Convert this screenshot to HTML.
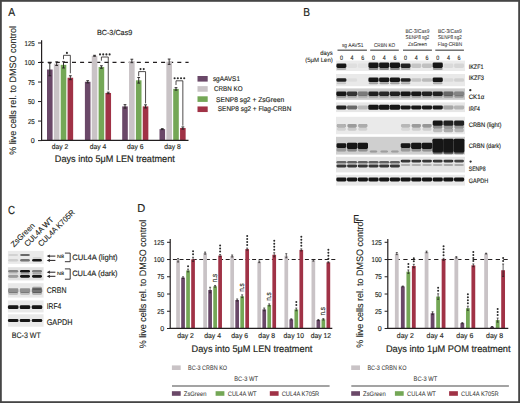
<!DOCTYPE html>
<html><head><meta charset="utf-8"><title>Figure</title>
<style>
html,body{margin:0;padding:0;background:#fff;}
body{width:520px;height:403px;overflow:hidden;}
svg{display:block;font-family:"Liberation Sans", sans-serif;text-rendering:geometricPrecision;}
text{stroke:#231f20;stroke-width:0.14px;}
</style></head><body>
<svg width="520" height="403" viewBox="0 0 520 403">
<defs><filter id="bl" x="-20%" y="-50%" width="140%" height="200%"><feGaussianBlur stdDeviation="0.75"/></filter></defs>
<rect x="0" y="0" width="520" height="403" fill="#fff"/>
<text x="8.20" y="15.50" font-size="11.6" textLength="6.90" lengthAdjust="spacingAndGlyphs" fill="#231f20" style="stroke-width:0.16px">A</text>
<text x="96.90" y="34.50" font-size="7.4" textLength="35.40" lengthAdjust="spacingAndGlyphs" fill="#231f20">BC-3/Cas9</text>
<text transform="translate(16.20,154.70) rotate(-90)" font-size="9.4" textLength="128.70" lengthAdjust="spacingAndGlyphs" fill="#231f20" style="stroke-width:0.1px">% live cells rel. to DMSO control</text>
<line x1="39.60" y1="62.30" x2="188.60" y2="62.30" stroke="#231f20" stroke-width="1.2" stroke-dasharray="4 4.1"/>
<rect x="47.00" y="69.53" width="5.60" height="71.07" fill="#6a4868"/>
<rect x="53.85" y="63.67" width="5.60" height="76.93" fill="#c9c3c6"/>
<rect x="60.70" y="64.84" width="5.60" height="75.76" fill="#74a756"/>
<rect x="67.55" y="77.73" width="5.60" height="62.87" fill="#a03246"/>
<line x1="49.80" y1="63.28" x2="49.80" y2="75.78" stroke="#231f20" stroke-width="0.9"/>
<line x1="48.40" y1="63.28" x2="51.20" y2="63.28" stroke="#231f20" stroke-width="0.9"/>
<line x1="48.40" y1="75.78" x2="51.20" y2="75.78" stroke="#231f20" stroke-width="0.9"/>
<line x1="56.65" y1="61.88" x2="56.65" y2="65.47" stroke="#231f20" stroke-width="0.9"/>
<line x1="55.25" y1="61.88" x2="58.05" y2="61.88" stroke="#231f20" stroke-width="0.9"/>
<line x1="55.25" y1="65.47" x2="58.05" y2="65.47" stroke="#231f20" stroke-width="0.9"/>
<line x1="63.50" y1="61.72" x2="63.50" y2="67.97" stroke="#231f20" stroke-width="0.9"/>
<line x1="62.10" y1="61.72" x2="64.90" y2="61.72" stroke="#231f20" stroke-width="0.9"/>
<line x1="62.10" y1="67.97" x2="64.90" y2="67.97" stroke="#231f20" stroke-width="0.9"/>
<line x1="70.35" y1="75.78" x2="70.35" y2="79.68" stroke="#231f20" stroke-width="0.9"/>
<line x1="68.95" y1="75.78" x2="71.75" y2="75.78" stroke="#231f20" stroke-width="0.9"/>
<line x1="68.95" y1="79.68" x2="71.75" y2="79.68" stroke="#231f20" stroke-width="0.9"/>
<text x="60.05" y="148.50" font-size="7.1" text-anchor="middle" textLength="16.50" lengthAdjust="spacingAndGlyphs" fill="#231f20">day 2</text>
<rect x="84.90" y="81.79" width="5.60" height="58.81" fill="#6a4868"/>
<rect x="91.75" y="55.78" width="5.60" height="84.82" fill="#c9c3c6"/>
<rect x="98.60" y="67.03" width="5.60" height="73.57" fill="#74a756"/>
<rect x="105.45" y="92.96" width="5.60" height="47.64" fill="#a03246"/>
<line x1="87.70" y1="80.70" x2="87.70" y2="82.88" stroke="#231f20" stroke-width="0.9"/>
<line x1="86.30" y1="80.70" x2="89.10" y2="80.70" stroke="#231f20" stroke-width="0.9"/>
<line x1="86.30" y1="82.88" x2="89.10" y2="82.88" stroke="#231f20" stroke-width="0.9"/>
<line x1="94.55" y1="55.31" x2="94.55" y2="56.25" stroke="#231f20" stroke-width="0.9"/>
<line x1="93.15" y1="55.31" x2="95.95" y2="55.31" stroke="#231f20" stroke-width="0.9"/>
<line x1="93.15" y1="56.25" x2="95.95" y2="56.25" stroke="#231f20" stroke-width="0.9"/>
<line x1="101.40" y1="65.78" x2="101.40" y2="68.28" stroke="#231f20" stroke-width="0.9"/>
<line x1="100.00" y1="65.78" x2="102.80" y2="65.78" stroke="#231f20" stroke-width="0.9"/>
<line x1="100.00" y1="68.28" x2="102.80" y2="68.28" stroke="#231f20" stroke-width="0.9"/>
<line x1="108.25" y1="92.18" x2="108.25" y2="93.74" stroke="#231f20" stroke-width="0.9"/>
<line x1="106.85" y1="92.18" x2="109.65" y2="92.18" stroke="#231f20" stroke-width="0.9"/>
<line x1="106.85" y1="93.74" x2="109.65" y2="93.74" stroke="#231f20" stroke-width="0.9"/>
<text x="97.95" y="148.50" font-size="7.1" text-anchor="middle" textLength="16.50" lengthAdjust="spacingAndGlyphs" fill="#231f20">day 4</text>
<rect x="122.20" y="106.39" width="5.60" height="34.21" fill="#6a4868"/>
<rect x="129.05" y="60.94" width="5.60" height="79.66" fill="#c9c3c6"/>
<rect x="135.90" y="80.31" width="5.60" height="60.29" fill="#74a756"/>
<rect x="142.75" y="106.39" width="5.60" height="34.21" fill="#a03246"/>
<line x1="125.00" y1="104.67" x2="125.00" y2="108.11" stroke="#231f20" stroke-width="0.9"/>
<line x1="123.60" y1="104.67" x2="126.40" y2="104.67" stroke="#231f20" stroke-width="0.9"/>
<line x1="123.60" y1="108.11" x2="126.40" y2="108.11" stroke="#231f20" stroke-width="0.9"/>
<line x1="131.85" y1="59.22" x2="131.85" y2="62.66" stroke="#231f20" stroke-width="0.9"/>
<line x1="130.45" y1="59.22" x2="133.25" y2="59.22" stroke="#231f20" stroke-width="0.9"/>
<line x1="130.45" y1="62.66" x2="133.25" y2="62.66" stroke="#231f20" stroke-width="0.9"/>
<line x1="138.70" y1="77.50" x2="138.70" y2="83.12" stroke="#231f20" stroke-width="0.9"/>
<line x1="137.30" y1="77.50" x2="140.10" y2="77.50" stroke="#231f20" stroke-width="0.9"/>
<line x1="137.30" y1="83.12" x2="140.10" y2="83.12" stroke="#231f20" stroke-width="0.9"/>
<line x1="145.55" y1="104.83" x2="145.55" y2="107.95" stroke="#231f20" stroke-width="0.9"/>
<line x1="144.15" y1="104.83" x2="146.95" y2="104.83" stroke="#231f20" stroke-width="0.9"/>
<line x1="144.15" y1="107.95" x2="146.95" y2="107.95" stroke="#231f20" stroke-width="0.9"/>
<text x="135.25" y="148.50" font-size="7.1" text-anchor="middle" textLength="16.50" lengthAdjust="spacingAndGlyphs" fill="#231f20">day 6</text>
<rect x="159.50" y="129.12" width="5.60" height="11.48" fill="#6a4868"/>
<rect x="166.35" y="61.72" width="5.60" height="78.88" fill="#c9c3c6"/>
<rect x="173.20" y="88.90" width="5.60" height="51.70" fill="#74a756"/>
<rect x="180.05" y="128.03" width="5.60" height="12.57" fill="#a03246"/>
<line x1="162.30" y1="128.65" x2="162.30" y2="129.59" stroke="#231f20" stroke-width="0.9"/>
<line x1="160.90" y1="128.65" x2="163.70" y2="128.65" stroke="#231f20" stroke-width="0.9"/>
<line x1="160.90" y1="129.59" x2="163.70" y2="129.59" stroke="#231f20" stroke-width="0.9"/>
<line x1="169.15" y1="59.06" x2="169.15" y2="64.37" stroke="#231f20" stroke-width="0.9"/>
<line x1="167.75" y1="59.06" x2="170.55" y2="59.06" stroke="#231f20" stroke-width="0.9"/>
<line x1="167.75" y1="64.37" x2="170.55" y2="64.37" stroke="#231f20" stroke-width="0.9"/>
<line x1="176.00" y1="87.65" x2="176.00" y2="90.15" stroke="#231f20" stroke-width="0.9"/>
<line x1="174.60" y1="87.65" x2="177.40" y2="87.65" stroke="#231f20" stroke-width="0.9"/>
<line x1="174.60" y1="90.15" x2="177.40" y2="90.15" stroke="#231f20" stroke-width="0.9"/>
<line x1="182.85" y1="126.93" x2="182.85" y2="129.12" stroke="#231f20" stroke-width="0.9"/>
<line x1="181.45" y1="126.93" x2="184.25" y2="126.93" stroke="#231f20" stroke-width="0.9"/>
<line x1="181.45" y1="129.12" x2="184.25" y2="129.12" stroke="#231f20" stroke-width="0.9"/>
<text x="172.55" y="148.50" font-size="7.1" text-anchor="middle" textLength="16.50" lengthAdjust="spacingAndGlyphs" fill="#231f20">day 8</text>
<polyline points="63.50,59.2 63.50,55.3 70.35,55.3 70.35,73.3" fill="none" stroke="#231f20" stroke-width="0.8"/>
<circle cx="66.92" cy="52.90" r="1.05" fill="#2b2b2b"/>
<polyline points="101.40,60.7 101.40,57.0 108.25,57.0 108.25,90.3" fill="none" stroke="#231f20" stroke-width="0.8"/>
<circle cx="100.03" cy="54.40" r="1.05" fill="#2b2b2b"/>
<circle cx="103.23" cy="54.40" r="1.05" fill="#2b2b2b"/>
<circle cx="106.43" cy="54.40" r="1.05" fill="#2b2b2b"/>
<circle cx="109.62" cy="54.40" r="1.05" fill="#2b2b2b"/>
<polyline points="138.70,76.2 138.70,71.6 145.55,71.6 145.55,103.4" fill="none" stroke="#231f20" stroke-width="0.8"/>
<circle cx="140.53" cy="69.10" r="1.05" fill="#2b2b2b"/>
<circle cx="143.72" cy="69.10" r="1.05" fill="#2b2b2b"/>
<polyline points="176.00,85.0 176.00,80.8 182.85,80.8 182.85,125.7" fill="none" stroke="#231f20" stroke-width="0.8"/>
<circle cx="174.62" cy="78.30" r="1.05" fill="#2b2b2b"/>
<circle cx="177.82" cy="78.30" r="1.05" fill="#2b2b2b"/>
<circle cx="181.03" cy="78.30" r="1.05" fill="#2b2b2b"/>
<circle cx="184.22" cy="78.30" r="1.05" fill="#2b2b2b"/>
<line x1="41.60" y1="40.20" x2="41.60" y2="141.00" stroke="#231f20" stroke-width="1.2"/>
<line x1="41.00" y1="140.40" x2="188.50" y2="140.40" stroke="#231f20" stroke-width="1.2"/>
<line x1="38.00" y1="140.60" x2="41.60" y2="140.60" stroke="#231f20" stroke-width="1.0"/>
<text x="34.80" y="143.15" font-size="7.1" text-anchor="end" fill="#231f20">0</text>
<line x1="38.00" y1="121.07" x2="41.60" y2="121.07" stroke="#231f20" stroke-width="1.0"/>
<text x="34.80" y="123.62" font-size="7.1" text-anchor="end" textLength="6.90" lengthAdjust="spacingAndGlyphs" fill="#231f20">25</text>
<line x1="38.00" y1="101.55" x2="41.60" y2="101.55" stroke="#231f20" stroke-width="1.0"/>
<text x="34.80" y="104.10" font-size="7.1" text-anchor="end" textLength="6.90" lengthAdjust="spacingAndGlyphs" fill="#231f20">50</text>
<line x1="38.00" y1="82.02" x2="41.60" y2="82.02" stroke="#231f20" stroke-width="1.0"/>
<text x="34.80" y="84.57" font-size="7.1" text-anchor="end" textLength="6.90" lengthAdjust="spacingAndGlyphs" fill="#231f20">75</text>
<line x1="38.00" y1="62.50" x2="41.60" y2="62.50" stroke="#231f20" stroke-width="1.0"/>
<text x="34.80" y="65.05" font-size="7.1" text-anchor="end" textLength="10.35" lengthAdjust="spacingAndGlyphs" fill="#231f20">100</text>
<line x1="38.00" y1="42.97" x2="41.60" y2="42.97" stroke="#231f20" stroke-width="1.0"/>
<text x="34.80" y="45.52" font-size="7.1" text-anchor="end" textLength="10.35" lengthAdjust="spacingAndGlyphs" fill="#231f20">125</text>
<text x="54.80" y="161.80" font-size="9.6" textLength="120.00" lengthAdjust="spacingAndGlyphs" fill="#231f20" style="stroke-width:0.18px">Days into 5μM LEN treatment</text>
<rect x="197.50" y="76.00" width="10.20" height="5.60" fill="#6a4868"/>
<text x="212.90" y="81.20" font-size="6.9" textLength="27.10" lengthAdjust="spacingAndGlyphs" fill="#231f20">sgAAVS1</text>
<rect x="197.50" y="86.15" width="10.20" height="5.60" fill="#c9c3c6"/>
<text x="214.00" y="91.00" font-size="6.9" textLength="28.50" lengthAdjust="spacingAndGlyphs" fill="#231f20">CRBN KO</text>
<rect x="197.50" y="96.30" width="10.20" height="5.60" fill="#74a756"/>
<text x="216.10" y="101.50" font-size="6.9" textLength="68.00" lengthAdjust="spacingAndGlyphs" fill="#231f20">SENP8 sg2 + ZsGreen</text>
<rect x="197.50" y="106.45" width="10.20" height="5.60" fill="#a03246"/>
<text x="217.80" y="111.00" font-size="6.9" textLength="73.50" lengthAdjust="spacingAndGlyphs" fill="#231f20">SENP8 sg2 + Flag-CRBN</text>
<text x="303.20" y="15.60" font-size="11.6" textLength="6.80" lengthAdjust="spacingAndGlyphs" fill="#231f20" style="stroke-width:0.16px">B</text>
<rect x="336.00" y="60.60" width="129.00" height="10.40" fill="#ebebeb"/>
<rect x="336.00" y="74.00" width="129.00" height="12.20" fill="#e9e9e9"/>
<rect x="336.00" y="88.40" width="129.00" height="11.40" fill="#cccccc"/>
<rect x="336.00" y="102.40" width="129.00" height="9.70" fill="#e7e7e7"/>
<rect x="336.00" y="116.80" width="129.00" height="17.40" fill="#eaeaea"/>
<rect x="336.00" y="136.80" width="129.00" height="17.80" fill="#cfcfcf"/>
<rect x="336.00" y="156.80" width="129.00" height="15.60" fill="#e4e4e4"/>
<rect x="336.00" y="174.80" width="129.00" height="10.80" fill="#e9e9e9"/>
<g filter="url(#bl)">
<rect x="336.40" y="63.50" width="10.00" height="4.40" rx="1.4" fill="#141414" fill-opacity="1.00"/>
<rect x="347.10" y="63.50" width="10.00" height="4.40" rx="1.4" fill="#141414" fill-opacity="0.05"/>
<rect x="357.80" y="63.50" width="10.00" height="4.40" rx="1.4" fill="#141414" fill-opacity="0.04"/>
<rect x="400.60" y="63.50" width="10.00" height="4.40" rx="1.4" fill="#141414" fill-opacity="0.95"/>
<rect x="411.30" y="63.50" width="10.00" height="4.40" rx="1.4" fill="#141414" fill-opacity="0.16"/>
<rect x="422.00" y="63.50" width="10.00" height="4.40" rx="1.4" fill="#141414" fill-opacity="0.18"/>
<rect x="443.40" y="63.50" width="10.00" height="4.40" rx="1.4" fill="#141414" fill-opacity="0.07"/>
<rect x="454.10" y="63.50" width="10.00" height="4.40" rx="1.4" fill="#141414" fill-opacity="0.09"/>
<rect x="368.40" y="62.60" width="10.20" height="5.40" rx="1.4" fill="#141414" fill-opacity="1.00"/>
<rect x="379.10" y="62.60" width="10.20" height="5.40" rx="1.4" fill="#141414" fill-opacity="1.00"/>
<rect x="389.80" y="62.60" width="10.20" height="5.40" rx="1.4" fill="#141414" fill-opacity="1.00"/>
<rect x="432.60" y="62.60" width="10.20" height="5.40" rx="1.4" fill="#141414" fill-opacity="1.00"/>
<rect x="336.50" y="67.80" width="9.80" height="2.20" rx="1.4" fill="#141414" fill-opacity="0.25"/>
<rect x="368.60" y="67.80" width="9.80" height="2.20" rx="1.4" fill="#141414" fill-opacity="0.45"/>
<rect x="379.30" y="67.80" width="9.80" height="2.20" rx="1.4" fill="#141414" fill-opacity="0.45"/>
<rect x="390.00" y="67.80" width="9.80" height="2.20" rx="1.4" fill="#141414" fill-opacity="0.45"/>
<rect x="400.70" y="67.80" width="9.80" height="2.20" rx="1.4" fill="#141414" fill-opacity="0.25"/>
<rect x="432.80" y="67.80" width="9.80" height="2.20" rx="1.4" fill="#141414" fill-opacity="0.40"/>
<rect x="336.40" y="78.20" width="10.00" height="3.60" rx="1.4" fill="#141414" fill-opacity="0.95"/>
<rect x="347.10" y="78.20" width="10.00" height="3.60" rx="1.4" fill="#141414" fill-opacity="0.05"/>
<rect x="400.60" y="78.20" width="10.00" height="3.60" rx="1.4" fill="#141414" fill-opacity="0.95"/>
<rect x="411.30" y="78.20" width="10.00" height="3.60" rx="1.4" fill="#141414" fill-opacity="0.15"/>
<rect x="422.00" y="78.20" width="10.00" height="3.60" rx="1.4" fill="#141414" fill-opacity="0.20"/>
<rect x="443.40" y="78.20" width="10.00" height="3.60" rx="1.4" fill="#141414" fill-opacity="0.07"/>
<rect x="454.10" y="78.20" width="10.00" height="3.60" rx="1.4" fill="#141414" fill-opacity="0.10"/>
<rect x="368.40" y="77.50" width="10.20" height="4.60" rx="1.4" fill="#141414" fill-opacity="1.00"/>
<rect x="379.10" y="77.50" width="10.20" height="4.60" rx="1.4" fill="#141414" fill-opacity="1.00"/>
<rect x="389.80" y="77.50" width="10.20" height="4.60" rx="1.4" fill="#141414" fill-opacity="1.00"/>
<rect x="432.60" y="77.50" width="10.20" height="4.60" rx="1.4" fill="#141414" fill-opacity="1.00"/>
<rect x="336.60" y="82.20" width="9.60" height="2.00" rx="1.4" fill="#141414" fill-opacity="0.15"/>
<rect x="368.70" y="82.20" width="9.60" height="2.00" rx="1.4" fill="#141414" fill-opacity="0.35"/>
<rect x="379.40" y="82.20" width="9.60" height="2.00" rx="1.4" fill="#141414" fill-opacity="0.35"/>
<rect x="390.10" y="82.20" width="9.60" height="2.00" rx="1.4" fill="#141414" fill-opacity="0.35"/>
<rect x="400.80" y="82.20" width="9.60" height="2.00" rx="1.4" fill="#141414" fill-opacity="0.25"/>
<rect x="432.90" y="82.20" width="9.60" height="2.00" rx="1.4" fill="#141414" fill-opacity="0.30"/>
<rect x="336.30" y="91.60" width="10.20" height="4.40" rx="1.4" fill="#141414" fill-opacity="1.00"/>
<rect x="347.00" y="91.60" width="10.20" height="4.40" rx="1.4" fill="#141414" fill-opacity="0.85"/>
<rect x="357.70" y="91.60" width="10.20" height="4.40" rx="1.4" fill="#141414" fill-opacity="0.45"/>
<rect x="368.40" y="91.60" width="10.20" height="4.40" rx="1.4" fill="#141414" fill-opacity="0.95"/>
<rect x="379.10" y="91.60" width="10.20" height="4.40" rx="1.4" fill="#141414" fill-opacity="0.90"/>
<rect x="389.80" y="91.60" width="10.20" height="4.40" rx="1.4" fill="#141414" fill-opacity="0.95"/>
<rect x="400.50" y="91.60" width="10.20" height="4.40" rx="1.4" fill="#141414" fill-opacity="1.00"/>
<rect x="411.20" y="91.60" width="10.20" height="4.40" rx="1.4" fill="#141414" fill-opacity="1.00"/>
<rect x="421.90" y="91.60" width="10.20" height="4.40" rx="1.4" fill="#141414" fill-opacity="0.95"/>
<rect x="432.60" y="91.60" width="10.20" height="4.40" rx="1.4" fill="#141414" fill-opacity="0.95"/>
<rect x="443.30" y="91.60" width="10.20" height="4.40" rx="1.4" fill="#141414" fill-opacity="0.55"/>
<rect x="454.00" y="91.60" width="10.20" height="4.40" rx="1.4" fill="#141414" fill-opacity="0.40"/>
<rect x="336.60" y="95.40" width="9.60" height="2.40" rx="1.4" fill="#141414" fill-opacity="0.30"/>
<rect x="347.30" y="95.40" width="9.60" height="2.40" rx="1.4" fill="#141414" fill-opacity="0.20"/>
<rect x="358.00" y="95.40" width="9.60" height="2.40" rx="1.4" fill="#141414" fill-opacity="0.15"/>
<rect x="368.70" y="95.40" width="9.60" height="2.40" rx="1.4" fill="#141414" fill-opacity="0.20"/>
<rect x="379.40" y="95.40" width="9.60" height="2.40" rx="1.4" fill="#141414" fill-opacity="0.20"/>
<rect x="390.10" y="95.40" width="9.60" height="2.40" rx="1.4" fill="#141414" fill-opacity="0.20"/>
<rect x="400.80" y="95.40" width="9.60" height="2.40" rx="1.4" fill="#141414" fill-opacity="0.25"/>
<rect x="411.50" y="95.40" width="9.60" height="2.40" rx="1.4" fill="#141414" fill-opacity="0.25"/>
<rect x="422.20" y="95.40" width="9.60" height="2.40" rx="1.4" fill="#141414" fill-opacity="0.20"/>
<rect x="432.90" y="95.40" width="9.60" height="2.40" rx="1.4" fill="#141414" fill-opacity="0.20"/>
<rect x="443.60" y="95.40" width="9.60" height="2.40" rx="1.4" fill="#141414" fill-opacity="0.25"/>
<rect x="454.30" y="95.40" width="9.60" height="2.40" rx="1.4" fill="#141414" fill-opacity="0.25"/>
<rect x="336.30" y="105.40" width="10.20" height="4.00" rx="1.4" fill="#141414" fill-opacity="0.95"/>
<rect x="347.00" y="105.40" width="10.20" height="4.00" rx="1.4" fill="#141414" fill-opacity="0.60"/>
<rect x="357.70" y="105.40" width="10.20" height="4.00" rx="1.4" fill="#141414" fill-opacity="0.20"/>
<rect x="400.50" y="105.40" width="10.20" height="4.00" rx="1.4" fill="#141414" fill-opacity="1.00"/>
<rect x="411.20" y="105.40" width="10.20" height="4.00" rx="1.4" fill="#141414" fill-opacity="1.00"/>
<rect x="421.90" y="105.40" width="10.20" height="4.00" rx="1.4" fill="#141414" fill-opacity="1.00"/>
<rect x="432.60" y="105.40" width="10.20" height="4.00" rx="1.4" fill="#141414" fill-opacity="1.00"/>
<rect x="443.30" y="105.40" width="10.20" height="4.00" rx="1.4" fill="#141414" fill-opacity="0.32"/>
<rect x="454.00" y="105.40" width="10.20" height="4.00" rx="1.4" fill="#141414" fill-opacity="0.22"/>
<rect x="368.30" y="104.80" width="10.40" height="5.00" rx="1.4" fill="#141414" fill-opacity="1.00"/>
<rect x="379.00" y="104.80" width="10.40" height="5.00" rx="1.4" fill="#141414" fill-opacity="1.00"/>
<rect x="389.70" y="104.80" width="10.40" height="5.00" rx="1.4" fill="#141414" fill-opacity="1.00"/>
<rect x="336.70" y="124.10" width="9.40" height="3.40" rx="1.4" fill="#141414" fill-opacity="0.28"/>
<rect x="347.40" y="124.10" width="9.40" height="3.40" rx="1.4" fill="#141414" fill-opacity="0.38"/>
<rect x="358.10" y="124.10" width="9.40" height="3.40" rx="1.4" fill="#141414" fill-opacity="0.30"/>
<rect x="400.90" y="124.10" width="9.40" height="3.40" rx="1.4" fill="#141414" fill-opacity="0.22"/>
<rect x="411.60" y="124.10" width="9.40" height="3.40" rx="1.4" fill="#141414" fill-opacity="0.38"/>
<rect x="422.30" y="124.10" width="9.40" height="3.40" rx="1.4" fill="#141414" fill-opacity="0.40"/>
<rect x="336.90" y="127.30" width="9.00" height="3.40" rx="1.4" fill="#141414" fill-opacity="0.10"/>
<rect x="347.60" y="127.30" width="9.00" height="3.40" rx="1.4" fill="#141414" fill-opacity="0.14"/>
<rect x="358.30" y="127.30" width="9.00" height="3.40" rx="1.4" fill="#141414" fill-opacity="0.10"/>
<rect x="401.10" y="127.30" width="9.00" height="3.40" rx="1.4" fill="#141414" fill-opacity="0.08"/>
<rect x="411.80" y="127.30" width="9.00" height="3.40" rx="1.4" fill="#141414" fill-opacity="0.12"/>
<rect x="422.50" y="127.30" width="9.00" height="3.40" rx="1.4" fill="#141414" fill-opacity="0.12"/>
<rect x="432.70" y="120.60" width="10.00" height="5.20" rx="1.4" fill="#141414" fill-opacity="1.00"/>
<rect x="443.40" y="120.60" width="10.00" height="5.20" rx="1.4" fill="#141414" fill-opacity="0.95"/>
<rect x="454.10" y="120.60" width="10.00" height="5.20" rx="1.4" fill="#141414" fill-opacity="0.95"/>
<rect x="432.90" y="125.50" width="9.60" height="3.00" rx="1.4" fill="#141414" fill-opacity="0.45"/>
<rect x="443.60" y="125.50" width="9.60" height="3.00" rx="1.4" fill="#141414" fill-opacity="0.40"/>
<rect x="454.30" y="125.50" width="9.60" height="3.00" rx="1.4" fill="#141414" fill-opacity="0.40"/>
<rect x="433.00" y="128.20" width="9.40" height="4.00" rx="1.4" fill="#141414" fill-opacity="0.20"/>
<rect x="443.70" y="128.20" width="9.40" height="4.00" rx="1.4" fill="#141414" fill-opacity="0.30"/>
<rect x="454.40" y="128.20" width="9.40" height="4.00" rx="1.4" fill="#141414" fill-opacity="0.22"/>
<rect x="336.50" y="143.30" width="9.80" height="4.60" rx="1.4" fill="#141414" fill-opacity="1.00"/>
<rect x="400.70" y="143.30" width="9.80" height="4.60" rx="1.4" fill="#141414" fill-opacity="1.00"/>
<rect x="346.90" y="142.70" width="10.40" height="6.20" rx="1.4" fill="#141414" fill-opacity="1.00"/>
<rect x="357.60" y="142.70" width="10.40" height="6.20" rx="1.4" fill="#141414" fill-opacity="1.00"/>
<rect x="411.10" y="142.70" width="10.40" height="6.20" rx="1.4" fill="#141414" fill-opacity="1.00"/>
<rect x="421.80" y="142.70" width="10.40" height="6.20" rx="1.4" fill="#141414" fill-opacity="1.00"/>
<rect x="336.70" y="147.60" width="9.40" height="4.00" rx="1.4" fill="#141414" fill-opacity="0.30"/>
<rect x="347.40" y="147.60" width="9.40" height="4.00" rx="1.4" fill="#141414" fill-opacity="0.40"/>
<rect x="358.10" y="147.60" width="9.40" height="4.00" rx="1.4" fill="#141414" fill-opacity="0.35"/>
<rect x="400.90" y="147.60" width="9.40" height="4.00" rx="1.4" fill="#141414" fill-opacity="0.30"/>
<rect x="411.60" y="147.60" width="9.40" height="4.00" rx="1.4" fill="#141414" fill-opacity="0.35"/>
<rect x="422.30" y="147.60" width="9.40" height="4.00" rx="1.4" fill="#141414" fill-opacity="0.35"/>
<rect x="369.70" y="150.60" width="7.60" height="1.80" rx="1.4" fill="#141414" fill-opacity="0.30"/>
<rect x="380.40" y="150.60" width="7.60" height="1.80" rx="1.4" fill="#141414" fill-opacity="0.28"/>
<rect x="391.10" y="150.60" width="7.60" height="1.80" rx="1.4" fill="#141414" fill-opacity="0.28"/>
<rect x="432.40" y="138.80" width="10.60" height="13.60" rx="1.4" fill="#141414" fill-opacity="1.00"/>
<rect x="443.10" y="138.80" width="10.60" height="13.60" rx="1.4" fill="#141414" fill-opacity="1.00"/>
<rect x="453.80" y="138.80" width="10.60" height="13.60" rx="1.4" fill="#141414" fill-opacity="1.00"/>
<rect x="432.70" y="151.00" width="10.00" height="3.20" rx="1.4" fill="#141414" fill-opacity="0.50"/>
<rect x="443.40" y="151.00" width="10.00" height="3.20" rx="1.4" fill="#141414" fill-opacity="0.60"/>
<rect x="454.10" y="151.00" width="10.00" height="3.20" rx="1.4" fill="#141414" fill-opacity="0.50"/>
<rect x="336.40" y="160.90" width="10.00" height="2.60" rx="1.4" fill="#141414" fill-opacity="0.60"/>
<rect x="347.10" y="160.90" width="10.00" height="2.60" rx="1.4" fill="#141414" fill-opacity="0.62"/>
<rect x="357.80" y="160.90" width="10.00" height="2.60" rx="1.4" fill="#141414" fill-opacity="0.62"/>
<rect x="368.50" y="160.90" width="10.00" height="2.60" rx="1.4" fill="#141414" fill-opacity="0.62"/>
<rect x="379.20" y="160.90" width="10.00" height="2.60" rx="1.4" fill="#141414" fill-opacity="0.62"/>
<rect x="389.90" y="160.90" width="10.00" height="2.60" rx="1.4" fill="#141414" fill-opacity="0.62"/>
<rect x="336.40" y="164.40" width="10.00" height="3.00" rx="1.4" fill="#141414" fill-opacity="0.85"/>
<rect x="347.10" y="164.40" width="10.00" height="3.00" rx="1.4" fill="#141414" fill-opacity="0.85"/>
<rect x="357.80" y="164.40" width="10.00" height="3.00" rx="1.4" fill="#141414" fill-opacity="0.85"/>
<rect x="368.50" y="164.40" width="10.00" height="3.00" rx="1.4" fill="#141414" fill-opacity="0.85"/>
<rect x="379.20" y="164.40" width="10.00" height="3.00" rx="1.4" fill="#141414" fill-opacity="0.85"/>
<rect x="389.90" y="164.40" width="10.00" height="3.00" rx="1.4" fill="#141414" fill-opacity="0.85"/>
<rect x="400.70" y="159.80" width="9.80" height="2.60" rx="1.4" fill="#141414" fill-opacity="0.85"/>
<rect x="411.40" y="159.80" width="9.80" height="2.60" rx="1.4" fill="#141414" fill-opacity="0.85"/>
<rect x="422.10" y="159.80" width="9.80" height="2.60" rx="1.4" fill="#141414" fill-opacity="0.85"/>
<rect x="432.80" y="159.80" width="9.80" height="2.60" rx="1.4" fill="#141414" fill-opacity="0.85"/>
<rect x="443.50" y="159.80" width="9.80" height="2.60" rx="1.4" fill="#141414" fill-opacity="0.85"/>
<rect x="454.20" y="159.80" width="9.80" height="2.60" rx="1.4" fill="#141414" fill-opacity="0.75"/>
<rect x="400.80" y="164.00" width="9.60" height="2.00" rx="1.4" fill="#141414" fill-opacity="0.22"/>
<rect x="411.50" y="164.00" width="9.60" height="2.00" rx="1.4" fill="#141414" fill-opacity="0.22"/>
<rect x="422.20" y="164.00" width="9.60" height="2.00" rx="1.4" fill="#141414" fill-opacity="0.22"/>
<rect x="432.90" y="164.00" width="9.60" height="2.00" rx="1.4" fill="#141414" fill-opacity="0.22"/>
<rect x="443.60" y="164.00" width="9.60" height="2.00" rx="1.4" fill="#141414" fill-opacity="0.25"/>
<rect x="454.30" y="164.00" width="9.60" height="2.00" rx="1.4" fill="#141414" fill-opacity="0.25"/>
<rect x="336.30" y="177.60" width="10.20" height="3.80" rx="1.4" fill="#141414" fill-opacity="1.00"/>
<rect x="347.00" y="177.60" width="10.20" height="3.80" rx="1.4" fill="#141414" fill-opacity="1.00"/>
<rect x="357.70" y="177.60" width="10.20" height="3.80" rx="1.4" fill="#141414" fill-opacity="1.00"/>
<rect x="368.40" y="177.60" width="10.20" height="3.80" rx="1.4" fill="#141414" fill-opacity="1.00"/>
<rect x="379.10" y="177.60" width="10.20" height="3.80" rx="1.4" fill="#141414" fill-opacity="1.00"/>
<rect x="389.80" y="177.60" width="10.20" height="3.80" rx="1.4" fill="#141414" fill-opacity="1.00"/>
<rect x="400.50" y="177.60" width="10.20" height="3.80" rx="1.4" fill="#141414" fill-opacity="1.00"/>
<rect x="411.20" y="177.60" width="10.20" height="3.80" rx="1.4" fill="#141414" fill-opacity="1.00"/>
<rect x="421.90" y="177.60" width="10.20" height="3.80" rx="1.4" fill="#141414" fill-opacity="1.00"/>
<rect x="432.60" y="177.60" width="10.20" height="3.80" rx="1.4" fill="#141414" fill-opacity="1.00"/>
<rect x="443.30" y="177.60" width="10.20" height="3.80" rx="1.4" fill="#141414" fill-opacity="1.00"/>
<rect x="454.00" y="177.60" width="10.20" height="3.80" rx="1.4" fill="#141414" fill-opacity="1.00"/>
</g>
<text x="341.90" y="46.70" font-size="5.6" textLength="21.60" lengthAdjust="spacingAndGlyphs" fill="#333" style="stroke-width:0.05px">sg AAVS1</text>
<line x1="337.50" y1="50.20" x2="366.90" y2="50.20" stroke="#5a5a5a" stroke-width="1.3"/>
<text x="374.00" y="46.70" font-size="5.6" textLength="21.20" lengthAdjust="spacingAndGlyphs" fill="#333" style="stroke-width:0.05px">CRBN KO</text>
<line x1="370.20" y1="50.20" x2="398.80" y2="50.20" stroke="#5a5a5a" stroke-width="1.3"/>
<text x="405.60" y="32.80" font-size="5.6" textLength="23.80" lengthAdjust="spacingAndGlyphs" fill="#333" style="stroke-width:0.05px">BC-3/Cas9</text>
<text x="405.60" y="39.00" font-size="5.6" textLength="23.80" lengthAdjust="spacingAndGlyphs" fill="#333" style="stroke-width:0.05px">SENP8 sg2</text>
<text x="408.00" y="45.70" font-size="5.6" textLength="19.00" lengthAdjust="spacingAndGlyphs" fill="#333" style="stroke-width:0.05px">ZsGreen</text>
<line x1="403.00" y1="50.20" x2="431.90" y2="50.20" stroke="#5a5a5a" stroke-width="1.3"/>
<text x="438.00" y="32.80" font-size="5.6" textLength="23.80" lengthAdjust="spacingAndGlyphs" fill="#333" style="stroke-width:0.05px">BC-3/Cas9</text>
<text x="438.00" y="39.00" font-size="5.6" textLength="23.80" lengthAdjust="spacingAndGlyphs" fill="#333" style="stroke-width:0.05px">SENP8 sg2</text>
<text x="437.80" y="45.70" font-size="5.6" textLength="24.40" lengthAdjust="spacingAndGlyphs" fill="#333" style="stroke-width:0.05px">Flag-CRBN</text>
<line x1="435.30" y1="50.20" x2="463.90" y2="50.20" stroke="#5a5a5a" stroke-width="1.3"/>
<text x="341.40" y="59.80" font-size="6.4" text-anchor="middle" textLength="3.00" lengthAdjust="spacingAndGlyphs" fill="#231f20" style="stroke-width:0.12px">0</text>
<text x="352.10" y="59.80" font-size="6.4" text-anchor="middle" textLength="3.00" lengthAdjust="spacingAndGlyphs" fill="#231f20" style="stroke-width:0.12px">4</text>
<text x="362.80" y="59.80" font-size="6.4" text-anchor="middle" textLength="3.00" lengthAdjust="spacingAndGlyphs" fill="#231f20" style="stroke-width:0.12px">6</text>
<text x="373.50" y="59.80" font-size="6.4" text-anchor="middle" textLength="3.00" lengthAdjust="spacingAndGlyphs" fill="#231f20" style="stroke-width:0.12px">0</text>
<text x="384.20" y="59.80" font-size="6.4" text-anchor="middle" textLength="3.00" lengthAdjust="spacingAndGlyphs" fill="#231f20" style="stroke-width:0.12px">4</text>
<text x="394.90" y="59.80" font-size="6.4" text-anchor="middle" textLength="3.00" lengthAdjust="spacingAndGlyphs" fill="#231f20" style="stroke-width:0.12px">6</text>
<text x="405.60" y="59.80" font-size="6.4" text-anchor="middle" textLength="3.00" lengthAdjust="spacingAndGlyphs" fill="#231f20" style="stroke-width:0.12px">0</text>
<text x="416.30" y="59.80" font-size="6.4" text-anchor="middle" textLength="3.00" lengthAdjust="spacingAndGlyphs" fill="#231f20" style="stroke-width:0.12px">4</text>
<text x="427.00" y="59.80" font-size="6.4" text-anchor="middle" textLength="3.00" lengthAdjust="spacingAndGlyphs" fill="#231f20" style="stroke-width:0.12px">6</text>
<text x="437.70" y="59.80" font-size="6.4" text-anchor="middle" textLength="3.00" lengthAdjust="spacingAndGlyphs" fill="#231f20" style="stroke-width:0.12px">0</text>
<text x="448.40" y="59.80" font-size="6.4" text-anchor="middle" textLength="3.00" lengthAdjust="spacingAndGlyphs" fill="#231f20" style="stroke-width:0.12px">4</text>
<text x="459.10" y="59.80" font-size="6.4" text-anchor="middle" textLength="3.00" lengthAdjust="spacingAndGlyphs" fill="#231f20" style="stroke-width:0.12px">6</text>
<text x="332.80" y="55.00" font-size="6.2" text-anchor="end" textLength="12.50" lengthAdjust="spacingAndGlyphs" fill="#231f20" style="stroke-width:0.1px">days</text>
<text x="332.80" y="62.30" font-size="6.2" text-anchor="end" textLength="27.60" lengthAdjust="spacingAndGlyphs" fill="#231f20" style="stroke-width:0.1px">(5μM Len)</text>
<text x="468.70" y="68.80" font-size="6.4" textLength="14.80" lengthAdjust="spacingAndGlyphs" fill="#231f20">IKZF1</text>
<text x="468.70" y="80.00" font-size="6.4" textLength="15.30" lengthAdjust="spacingAndGlyphs" fill="#231f20">IKZF3</text>
<text x="468.70" y="99.00" font-size="6.4" textLength="15.50" lengthAdjust="spacingAndGlyphs" fill="#231f20">CK1α</text>
<text x="468.70" y="110.80" font-size="6.4" textLength="11.30" lengthAdjust="spacingAndGlyphs" fill="#231f20">IRF4</text>
<text x="468.70" y="127.40" font-size="6.4" textLength="32.70" lengthAdjust="spacingAndGlyphs" fill="#231f20">CRBN (light)</text>
<text x="468.70" y="147.60" font-size="6.4" textLength="32.20" lengthAdjust="spacingAndGlyphs" fill="#231f20">CRBN (dark)</text>
<text x="468.70" y="170.50" font-size="6.4" textLength="17.00" lengthAdjust="spacingAndGlyphs" fill="#231f20">SENP8</text>
<text x="468.70" y="182.50" font-size="6.4" textLength="19.60" lengthAdjust="spacingAndGlyphs" fill="#231f20">GAPDH</text>
<circle cx="470.30" cy="90.20" r="1.15" fill="#2b2b2b"/>
<circle cx="470.60" cy="161.60" r="1.15" fill="#2b2b2b"/>
<text x="8.00" y="213.80" font-size="11.6" textLength="7.00" lengthAdjust="spacingAndGlyphs" fill="#231f20" style="stroke-width:0.16px">C</text>
<rect x="7.90" y="250.90" width="35.70" height="13.00" fill="#eaeaea"/>
<rect x="7.90" y="267.20" width="35.70" height="13.20" fill="#e1e1e1"/>
<rect x="7.90" y="283.20" width="35.70" height="14.40" fill="#e9e9e9"/>
<rect x="7.90" y="300.40" width="35.70" height="12.00" fill="#e9e9e9"/>
<rect x="7.90" y="314.30" width="35.70" height="12.40" fill="#e9e9e9"/>
<g filter="url(#bl)">
<rect x="8.30" y="254.00" width="9.80" height="2.00" rx="1.4" fill="#141414" fill-opacity="0.10"/>
<rect x="20.10" y="254.00" width="9.80" height="2.00" rx="1.4" fill="#141414" fill-opacity="0.60"/>
<rect x="8.30" y="259.00" width="9.80" height="2.40" rx="1.4" fill="#141414" fill-opacity="0.12"/>
<rect x="20.10" y="259.00" width="9.80" height="2.40" rx="1.4" fill="#141414" fill-opacity="0.55"/>
<rect x="32.10" y="259.00" width="9.80" height="2.40" rx="1.4" fill="#141414" fill-opacity="1.00"/>
<rect x="32.50" y="257.20" width="9.00" height="1.60" rx="1.4" fill="#141414" fill-opacity="0.12"/>
<rect x="8.20" y="270.00" width="10.00" height="2.60" rx="1.4" fill="#141414" fill-opacity="0.45"/>
<rect x="20.00" y="270.00" width="10.00" height="2.60" rx="1.4" fill="#141414" fill-opacity="1.00"/>
<rect x="32.00" y="270.00" width="10.00" height="2.60" rx="1.4" fill="#141414" fill-opacity="0.50"/>
<rect x="8.20" y="274.90" width="10.00" height="2.80" rx="1.4" fill="#141414" fill-opacity="0.35"/>
<rect x="20.00" y="274.90" width="10.00" height="2.80" rx="1.4" fill="#141414" fill-opacity="1.00"/>
<rect x="32.00" y="274.90" width="10.00" height="2.80" rx="1.4" fill="#141414" fill-opacity="1.00"/>
<rect x="8.50" y="273.10" width="9.40" height="1.40" rx="1.4" fill="#141414" fill-opacity="0.10"/>
<rect x="20.30" y="273.10" width="9.40" height="1.40" rx="1.4" fill="#141414" fill-opacity="0.30"/>
<rect x="32.30" y="273.10" width="9.40" height="1.40" rx="1.4" fill="#141414" fill-opacity="0.30"/>
<rect x="8.00" y="288.30" width="10.40" height="4.60" rx="1.4" fill="#141414" fill-opacity="0.42"/>
<rect x="19.80" y="288.30" width="10.40" height="4.60" rx="1.4" fill="#141414" fill-opacity="0.42"/>
<rect x="31.80" y="288.30" width="10.40" height="4.60" rx="1.4" fill="#141414" fill-opacity="0.55"/>
<rect x="8.20" y="291.90" width="10.00" height="3.00" rx="1.4" fill="#141414" fill-opacity="0.18"/>
<rect x="20.00" y="291.90" width="10.00" height="3.00" rx="1.4" fill="#141414" fill-opacity="0.18"/>
<rect x="32.00" y="291.90" width="10.00" height="3.00" rx="1.4" fill="#141414" fill-opacity="0.22"/>
<rect x="32.20" y="286.70" width="9.60" height="3.00" rx="1.4" fill="#141414" fill-opacity="0.35"/>
<rect x="7.90" y="305.30" width="10.60" height="3.80" rx="1.4" fill="#141414" fill-opacity="1.00"/>
<rect x="19.70" y="305.30" width="10.60" height="3.80" rx="1.4" fill="#141414" fill-opacity="1.00"/>
<rect x="31.70" y="305.30" width="10.60" height="3.80" rx="1.4" fill="#141414" fill-opacity="1.00"/>
<rect x="7.90" y="319.10" width="10.60" height="3.00" rx="1.4" fill="#141414" fill-opacity="1.00"/>
<rect x="19.70" y="319.10" width="10.60" height="3.00" rx="1.4" fill="#141414" fill-opacity="1.00"/>
<rect x="31.70" y="319.10" width="10.60" height="3.00" rx="1.4" fill="#141414" fill-opacity="1.00"/>
</g>
<text transform="translate(14.00,247.40) rotate(-45)" font-size="7.9" textLength="30.00" lengthAdjust="spacingAndGlyphs" fill="#231f20">ZsGreen</text>
<text transform="translate(27.40,247.00) rotate(-45)" font-size="7.9" textLength="37.80" lengthAdjust="spacingAndGlyphs" fill="#231f20">CUL4A WT</text>
<text transform="translate(41.20,247.00) rotate(-45)" font-size="7.9" textLength="48.20" lengthAdjust="spacingAndGlyphs" fill="#231f20">CUL4A K705R</text>
<line x1="49.20" y1="256.10" x2="55.40" y2="256.10" stroke="#231f20" stroke-width="1.0"/>
<polygon points="46.70,256.10 50.10,254.50 49.70,256.10 50.10,257.70" fill="#231f20"/>
<line x1="49.20" y1="260.40" x2="55.40" y2="260.40" stroke="#231f20" stroke-width="1.0"/>
<polygon points="46.70,260.40 50.10,258.80 49.70,260.40 50.10,262.00" fill="#231f20"/>
<text x="57.00" y="258.40" font-size="4.8" textLength="6.90" lengthAdjust="spacingAndGlyphs" fill="#231f20">N8</text>
<polyline points="64.9,253.1 70.2,253.1 70.2,261.7 64.9,261.7" fill="none" stroke="#231f20" stroke-width="0.9"/>
<text x="72.20" y="260.10" font-size="7.8" textLength="45.40" lengthAdjust="spacingAndGlyphs" fill="#231f20">CUL4A (light)</text>
<line x1="49.20" y1="272.20" x2="55.40" y2="272.20" stroke="#231f20" stroke-width="1.0"/>
<polygon points="46.70,272.20 50.10,270.60 49.70,272.20 50.10,273.80" fill="#231f20"/>
<line x1="49.20" y1="276.30" x2="55.40" y2="276.30" stroke="#231f20" stroke-width="1.0"/>
<polygon points="46.70,276.30 50.10,274.70 49.70,276.30 50.10,277.90" fill="#231f20"/>
<text x="57.00" y="274.50" font-size="4.8" textLength="6.90" lengthAdjust="spacingAndGlyphs" fill="#231f20">N8</text>
<polyline points="64.9,268.9 70.2,268.9 70.2,279.2 64.9,279.2" fill="none" stroke="#231f20" stroke-width="0.9"/>
<text x="72.20" y="275.50" font-size="7.8" textLength="45.40" lengthAdjust="spacingAndGlyphs" fill="#231f20">CUL4A (dark)</text>
<text x="46.70" y="293.10" font-size="8.2" textLength="19.80" lengthAdjust="spacingAndGlyphs" fill="#231f20">CRBN</text>
<text x="46.70" y="309.40" font-size="8.2" textLength="14.60" lengthAdjust="spacingAndGlyphs" fill="#231f20">IRF4</text>
<text x="46.70" y="324.80" font-size="8.2" textLength="25.80" lengthAdjust="spacingAndGlyphs" fill="#231f20">GAPDH</text>
<text x="11.80" y="338.30" font-size="8.0" textLength="29.00" lengthAdjust="spacingAndGlyphs" fill="#231f20">BC-3 WT</text>
<text x="137.20" y="211.90" font-size="11.6" textLength="8.00" lengthAdjust="spacingAndGlyphs" fill="#231f20" style="stroke-width:0.16px">D</text>
<text transform="translate(145.60,348.30) rotate(-90)" font-size="9.4" textLength="128.50" lengthAdjust="spacingAndGlyphs" fill="#231f20" style="stroke-width:0.1px">% live cells rel. to DMSO control</text>
<line x1="172.90" y1="259.50" x2="335.40" y2="259.50" stroke="#231f20" stroke-width="1.2" stroke-dasharray="4 2.6"/>
<rect x="176.20" y="260.30" width="3.70" height="68.20" fill="#c9c3c6"/>
<rect x="181.20" y="277.61" width="3.70" height="50.89" fill="#6a4868"/>
<rect x="186.20" y="270.50" width="3.70" height="58.00" fill="#74a756"/>
<rect x="191.20" y="259.33" width="3.70" height="69.17" fill="#a03246"/>
<line x1="178.05" y1="258.57" x2="178.05" y2="262.02" stroke="#231f20" stroke-width="0.7"/>
<line x1="177.05" y1="258.57" x2="179.05" y2="258.57" stroke="#231f20" stroke-width="0.7"/>
<line x1="177.05" y1="262.02" x2="179.05" y2="262.02" stroke="#231f20" stroke-width="0.7"/>
<line x1="183.05" y1="276.78" x2="183.05" y2="278.44" stroke="#231f20" stroke-width="0.7"/>
<line x1="182.05" y1="276.78" x2="184.05" y2="276.78" stroke="#231f20" stroke-width="0.7"/>
<line x1="182.05" y1="278.44" x2="184.05" y2="278.44" stroke="#231f20" stroke-width="0.7"/>
<line x1="188.05" y1="269.12" x2="188.05" y2="271.88" stroke="#231f20" stroke-width="0.7"/>
<line x1="187.05" y1="269.12" x2="189.05" y2="269.12" stroke="#231f20" stroke-width="0.7"/>
<line x1="187.05" y1="271.88" x2="189.05" y2="271.88" stroke="#231f20" stroke-width="0.7"/>
<line x1="193.05" y1="257.26" x2="193.05" y2="261.40" stroke="#231f20" stroke-width="0.7"/>
<line x1="192.05" y1="257.26" x2="194.05" y2="257.26" stroke="#231f20" stroke-width="0.7"/>
<line x1="192.05" y1="261.40" x2="194.05" y2="261.40" stroke="#231f20" stroke-width="0.7"/>
<circle cx="188.05" cy="266.13" r="1.0" fill="#2b2b2b"/>
<circle cx="193.05" cy="254.26" r="1.0" fill="#2b2b2b"/>
<circle cx="193.05" cy="251.26" r="1.0" fill="#2b2b2b"/>
<text x="185.55" y="338.20" font-size="7.1" text-anchor="middle" textLength="16.80" lengthAdjust="spacingAndGlyphs" fill="#231f20">day 2</text>
<rect x="203.26" y="253.13" width="3.70" height="75.37" fill="#c9c3c6"/>
<rect x="208.26" y="290.02" width="3.70" height="38.48" fill="#6a4868"/>
<rect x="213.26" y="286.30" width="3.70" height="42.20" fill="#74a756"/>
<rect x="218.26" y="255.61" width="3.70" height="72.89" fill="#a03246"/>
<line x1="205.11" y1="252.09" x2="205.11" y2="254.16" stroke="#231f20" stroke-width="0.7"/>
<line x1="204.11" y1="252.09" x2="206.11" y2="252.09" stroke="#231f20" stroke-width="0.7"/>
<line x1="204.11" y1="254.16" x2="206.11" y2="254.16" stroke="#231f20" stroke-width="0.7"/>
<line x1="210.11" y1="287.26" x2="210.11" y2="292.78" stroke="#231f20" stroke-width="0.7"/>
<line x1="209.11" y1="287.26" x2="211.11" y2="287.26" stroke="#231f20" stroke-width="0.7"/>
<line x1="209.11" y1="292.78" x2="211.11" y2="292.78" stroke="#231f20" stroke-width="0.7"/>
<line x1="215.11" y1="285.47" x2="215.11" y2="287.12" stroke="#231f20" stroke-width="0.7"/>
<line x1="214.11" y1="285.47" x2="216.11" y2="285.47" stroke="#231f20" stroke-width="0.7"/>
<line x1="214.11" y1="287.12" x2="216.11" y2="287.12" stroke="#231f20" stroke-width="0.7"/>
<line x1="220.11" y1="254.57" x2="220.11" y2="256.64" stroke="#231f20" stroke-width="0.7"/>
<line x1="219.11" y1="254.57" x2="221.11" y2="254.57" stroke="#231f20" stroke-width="0.7"/>
<line x1="219.11" y1="256.64" x2="221.11" y2="256.64" stroke="#231f20" stroke-width="0.7"/>
<text transform="translate(217.11,282.27) rotate(-90)" font-size="7.6" textLength="8.40" lengthAdjust="spacingAndGlyphs" fill="#231f20">n.s</text>
<circle cx="220.11" cy="251.57" r="1.0" fill="#2b2b2b"/>
<circle cx="220.11" cy="248.57" r="1.0" fill="#2b2b2b"/>
<circle cx="220.11" cy="245.57" r="1.0" fill="#2b2b2b"/>
<text x="212.61" y="338.20" font-size="7.1" text-anchor="middle" textLength="16.80" lengthAdjust="spacingAndGlyphs" fill="#231f20">day 4</text>
<rect x="230.32" y="256.02" width="3.70" height="72.48" fill="#c9c3c6"/>
<rect x="235.32" y="300.02" width="3.70" height="28.48" fill="#6a4868"/>
<rect x="240.32" y="296.23" width="3.70" height="32.27" fill="#74a756"/>
<rect x="245.32" y="249.13" width="3.70" height="79.37" fill="#a03246"/>
<line x1="232.17" y1="254.99" x2="232.17" y2="257.06" stroke="#231f20" stroke-width="0.7"/>
<line x1="231.17" y1="254.99" x2="233.17" y2="254.99" stroke="#231f20" stroke-width="0.7"/>
<line x1="231.17" y1="257.06" x2="233.17" y2="257.06" stroke="#231f20" stroke-width="0.7"/>
<line x1="237.17" y1="298.98" x2="237.17" y2="301.05" stroke="#231f20" stroke-width="0.7"/>
<line x1="236.17" y1="298.98" x2="238.17" y2="298.98" stroke="#231f20" stroke-width="0.7"/>
<line x1="236.17" y1="301.05" x2="238.17" y2="301.05" stroke="#231f20" stroke-width="0.7"/>
<line x1="242.17" y1="294.85" x2="242.17" y2="297.61" stroke="#231f20" stroke-width="0.7"/>
<line x1="241.17" y1="294.85" x2="243.17" y2="294.85" stroke="#231f20" stroke-width="0.7"/>
<line x1="241.17" y1="297.61" x2="243.17" y2="297.61" stroke="#231f20" stroke-width="0.7"/>
<line x1="247.17" y1="248.09" x2="247.17" y2="250.16" stroke="#231f20" stroke-width="0.7"/>
<line x1="246.17" y1="248.09" x2="248.17" y2="248.09" stroke="#231f20" stroke-width="0.7"/>
<line x1="246.17" y1="250.16" x2="248.17" y2="250.16" stroke="#231f20" stroke-width="0.7"/>
<text transform="translate(244.17,291.65) rotate(-90)" font-size="7.6" textLength="8.40" lengthAdjust="spacingAndGlyphs" fill="#231f20">n.s</text>
<circle cx="247.17" cy="245.09" r="1.0" fill="#2b2b2b"/>
<circle cx="247.17" cy="242.09" r="1.0" fill="#2b2b2b"/>
<circle cx="247.17" cy="239.09" r="1.0" fill="#2b2b2b"/>
<circle cx="247.17" cy="236.09" r="1.0" fill="#2b2b2b"/>
<text x="239.67" y="338.20" font-size="7.1" text-anchor="middle" textLength="16.80" lengthAdjust="spacingAndGlyphs" fill="#231f20">day 6</text>
<rect x="257.38" y="261.82" width="3.70" height="66.68" fill="#c9c3c6"/>
<rect x="262.38" y="309.40" width="3.70" height="19.10" fill="#6a4868"/>
<rect x="267.38" y="304.92" width="3.70" height="23.58" fill="#74a756"/>
<rect x="272.38" y="254.78" width="3.70" height="73.72" fill="#a03246"/>
<line x1="259.23" y1="260.99" x2="259.23" y2="262.64" stroke="#231f20" stroke-width="0.7"/>
<line x1="258.23" y1="260.99" x2="260.23" y2="260.99" stroke="#231f20" stroke-width="0.7"/>
<line x1="258.23" y1="262.64" x2="260.23" y2="262.64" stroke="#231f20" stroke-width="0.7"/>
<line x1="264.23" y1="308.02" x2="264.23" y2="310.78" stroke="#231f20" stroke-width="0.7"/>
<line x1="263.23" y1="308.02" x2="265.23" y2="308.02" stroke="#231f20" stroke-width="0.7"/>
<line x1="263.23" y1="310.78" x2="265.23" y2="310.78" stroke="#231f20" stroke-width="0.7"/>
<line x1="269.23" y1="303.88" x2="269.23" y2="305.95" stroke="#231f20" stroke-width="0.7"/>
<line x1="268.23" y1="303.88" x2="270.23" y2="303.88" stroke="#231f20" stroke-width="0.7"/>
<line x1="268.23" y1="305.95" x2="270.23" y2="305.95" stroke="#231f20" stroke-width="0.7"/>
<line x1="274.23" y1="252.71" x2="274.23" y2="256.85" stroke="#231f20" stroke-width="0.7"/>
<line x1="273.23" y1="252.71" x2="275.23" y2="252.71" stroke="#231f20" stroke-width="0.7"/>
<line x1="273.23" y1="256.85" x2="275.23" y2="256.85" stroke="#231f20" stroke-width="0.7"/>
<text transform="translate(271.23,300.68) rotate(-90)" font-size="7.6" textLength="8.40" lengthAdjust="spacingAndGlyphs" fill="#231f20">n.s</text>
<circle cx="274.23" cy="249.71" r="1.0" fill="#2b2b2b"/>
<circle cx="274.23" cy="246.71" r="1.0" fill="#2b2b2b"/>
<circle cx="274.23" cy="243.71" r="1.0" fill="#2b2b2b"/>
<circle cx="274.23" cy="240.71" r="1.0" fill="#2b2b2b"/>
<text x="266.73" y="338.20" font-size="7.1" text-anchor="middle" textLength="16.80" lengthAdjust="spacingAndGlyphs" fill="#231f20">day 8</text>
<rect x="284.44" y="255.75" width="3.70" height="72.75" fill="#c9c3c6"/>
<rect x="289.44" y="319.33" width="3.70" height="9.17" fill="#6a4868"/>
<rect x="294.44" y="309.40" width="3.70" height="19.10" fill="#74a756"/>
<rect x="299.44" y="249.89" width="3.70" height="78.61" fill="#a03246"/>
<line x1="286.29" y1="253.68" x2="286.29" y2="257.82" stroke="#231f20" stroke-width="0.7"/>
<line x1="285.29" y1="253.68" x2="287.29" y2="253.68" stroke="#231f20" stroke-width="0.7"/>
<line x1="285.29" y1="257.82" x2="287.29" y2="257.82" stroke="#231f20" stroke-width="0.7"/>
<line x1="291.29" y1="318.78" x2="291.29" y2="319.88" stroke="#231f20" stroke-width="0.7"/>
<line x1="290.29" y1="318.78" x2="292.29" y2="318.78" stroke="#231f20" stroke-width="0.7"/>
<line x1="290.29" y1="319.88" x2="292.29" y2="319.88" stroke="#231f20" stroke-width="0.7"/>
<line x1="296.29" y1="308.02" x2="296.29" y2="310.78" stroke="#231f20" stroke-width="0.7"/>
<line x1="295.29" y1="308.02" x2="297.29" y2="308.02" stroke="#231f20" stroke-width="0.7"/>
<line x1="295.29" y1="310.78" x2="297.29" y2="310.78" stroke="#231f20" stroke-width="0.7"/>
<line x1="301.29" y1="248.85" x2="301.29" y2="250.92" stroke="#231f20" stroke-width="0.7"/>
<line x1="300.29" y1="248.85" x2="302.29" y2="248.85" stroke="#231f20" stroke-width="0.7"/>
<line x1="300.29" y1="250.92" x2="302.29" y2="250.92" stroke="#231f20" stroke-width="0.7"/>
<circle cx="296.29" cy="305.02" r="1.0" fill="#2b2b2b"/>
<circle cx="296.29" cy="302.02" r="1.0" fill="#2b2b2b"/>
<circle cx="301.29" cy="245.85" r="1.0" fill="#2b2b2b"/>
<circle cx="301.29" cy="242.85" r="1.0" fill="#2b2b2b"/>
<circle cx="301.29" cy="239.85" r="1.0" fill="#2b2b2b"/>
<circle cx="301.29" cy="236.85" r="1.0" fill="#2b2b2b"/>
<text x="293.79" y="338.20" font-size="7.1" text-anchor="middle" textLength="20.40" lengthAdjust="spacingAndGlyphs" fill="#231f20">day 10</text>
<rect x="311.50" y="260.30" width="3.70" height="68.20" fill="#c9c3c6"/>
<rect x="316.50" y="320.02" width="3.70" height="8.48" fill="#6a4868"/>
<rect x="321.50" y="319.33" width="3.70" height="9.17" fill="#74a756"/>
<rect x="326.50" y="262.30" width="3.70" height="66.20" fill="#a03246"/>
<line x1="313.35" y1="259.47" x2="313.35" y2="261.13" stroke="#231f20" stroke-width="0.7"/>
<line x1="312.35" y1="259.47" x2="314.35" y2="259.47" stroke="#231f20" stroke-width="0.7"/>
<line x1="312.35" y1="261.13" x2="314.35" y2="261.13" stroke="#231f20" stroke-width="0.7"/>
<line x1="318.35" y1="319.47" x2="318.35" y2="320.57" stroke="#231f20" stroke-width="0.7"/>
<line x1="317.35" y1="319.47" x2="319.35" y2="319.47" stroke="#231f20" stroke-width="0.7"/>
<line x1="317.35" y1="320.57" x2="319.35" y2="320.57" stroke="#231f20" stroke-width="0.7"/>
<line x1="323.35" y1="318.64" x2="323.35" y2="320.02" stroke="#231f20" stroke-width="0.7"/>
<line x1="322.35" y1="318.64" x2="324.35" y2="318.64" stroke="#231f20" stroke-width="0.7"/>
<line x1="322.35" y1="320.02" x2="324.35" y2="320.02" stroke="#231f20" stroke-width="0.7"/>
<line x1="328.35" y1="261.75" x2="328.35" y2="262.85" stroke="#231f20" stroke-width="0.7"/>
<line x1="327.35" y1="261.75" x2="329.35" y2="261.75" stroke="#231f20" stroke-width="0.7"/>
<line x1="327.35" y1="262.85" x2="329.35" y2="262.85" stroke="#231f20" stroke-width="0.7"/>
<text transform="translate(325.35,315.44) rotate(-90)" font-size="7.6" textLength="8.40" lengthAdjust="spacingAndGlyphs" fill="#231f20">n.s</text>
<circle cx="328.35" cy="258.75" r="1.0" fill="#2b2b2b"/>
<circle cx="328.35" cy="255.75" r="1.0" fill="#2b2b2b"/>
<circle cx="328.35" cy="252.75" r="1.0" fill="#2b2b2b"/>
<circle cx="328.35" cy="249.75" r="1.0" fill="#2b2b2b"/>
<text x="320.85" y="338.20" font-size="7.1" text-anchor="middle" textLength="20.40" lengthAdjust="spacingAndGlyphs" fill="#231f20">day 12</text>
<line x1="170.20" y1="239.00" x2="170.20" y2="328.90" stroke="#231f20" stroke-width="1.2"/>
<line x1="169.60" y1="328.30" x2="332.30" y2="328.30" stroke="#231f20" stroke-width="1.2"/>
<line x1="167.00" y1="328.50" x2="170.20" y2="328.50" stroke="#231f20" stroke-width="1.0"/>
<text x="164.20" y="331.00" font-size="7.1" text-anchor="end" fill="#231f20">0</text>
<line x1="167.00" y1="311.26" x2="170.20" y2="311.26" stroke="#231f20" stroke-width="1.0"/>
<text x="164.20" y="313.76" font-size="7.1" text-anchor="end" textLength="6.90" lengthAdjust="spacingAndGlyphs" fill="#231f20">25</text>
<line x1="167.00" y1="294.02" x2="170.20" y2="294.02" stroke="#231f20" stroke-width="1.0"/>
<text x="164.20" y="296.52" font-size="7.1" text-anchor="end" textLength="6.90" lengthAdjust="spacingAndGlyphs" fill="#231f20">50</text>
<line x1="167.00" y1="276.78" x2="170.20" y2="276.78" stroke="#231f20" stroke-width="1.0"/>
<text x="164.20" y="279.28" font-size="7.1" text-anchor="end" textLength="6.90" lengthAdjust="spacingAndGlyphs" fill="#231f20">75</text>
<line x1="167.00" y1="259.54" x2="170.20" y2="259.54" stroke="#231f20" stroke-width="1.0"/>
<text x="164.20" y="262.04" font-size="7.1" text-anchor="end" textLength="10.35" lengthAdjust="spacingAndGlyphs" fill="#231f20">100</text>
<line x1="167.00" y1="242.30" x2="170.20" y2="242.30" stroke="#231f20" stroke-width="1.0"/>
<text x="164.20" y="244.80" font-size="7.1" text-anchor="end" textLength="10.35" lengthAdjust="spacingAndGlyphs" fill="#231f20">125</text>
<text x="191.60" y="351.80" font-size="9.6" textLength="120.70" lengthAdjust="spacingAndGlyphs" fill="#231f20" style="stroke-width:0.18px">Days into 5μM LEN treatment</text>
<text x="353.20" y="222.80" font-size="11.6" textLength="5.90" lengthAdjust="spacingAndGlyphs" fill="#231f20" style="stroke-width:0.16px">E</text>
<text transform="translate(363.20,347.80) rotate(-90)" font-size="9.4" textLength="128.20" lengthAdjust="spacingAndGlyphs" fill="#231f20" style="stroke-width:0.1px">% live cells rel. to DMSO control</text>
<line x1="387.90" y1="259.50" x2="508.00" y2="259.50" stroke="#231f20" stroke-width="1.2" stroke-dasharray="4.3 3.4"/>
<rect x="394.90" y="253.61" width="3.80" height="74.89" fill="#c9c3c6"/>
<rect x="400.90" y="286.43" width="3.80" height="42.07" fill="#6a4868"/>
<rect x="406.45" y="271.68" width="3.80" height="56.82" fill="#74a756"/>
<rect x="411.90" y="266.02" width="3.80" height="62.48" fill="#a03246"/>
<line x1="396.80" y1="252.57" x2="396.80" y2="254.64" stroke="#231f20" stroke-width="0.7"/>
<line x1="395.80" y1="252.57" x2="397.80" y2="252.57" stroke="#231f20" stroke-width="0.7"/>
<line x1="395.80" y1="254.64" x2="397.80" y2="254.64" stroke="#231f20" stroke-width="0.7"/>
<line x1="402.80" y1="286.02" x2="402.80" y2="286.85" stroke="#231f20" stroke-width="0.7"/>
<line x1="401.80" y1="286.02" x2="403.80" y2="286.02" stroke="#231f20" stroke-width="0.7"/>
<line x1="401.80" y1="286.85" x2="403.80" y2="286.85" stroke="#231f20" stroke-width="0.7"/>
<line x1="408.35" y1="269.95" x2="408.35" y2="273.40" stroke="#231f20" stroke-width="0.7"/>
<line x1="407.35" y1="269.95" x2="409.35" y2="269.95" stroke="#231f20" stroke-width="0.7"/>
<line x1="407.35" y1="273.40" x2="409.35" y2="273.40" stroke="#231f20" stroke-width="0.7"/>
<line x1="413.80" y1="264.30" x2="413.80" y2="267.75" stroke="#231f20" stroke-width="0.7"/>
<line x1="412.80" y1="264.30" x2="414.80" y2="264.30" stroke="#231f20" stroke-width="0.7"/>
<line x1="412.80" y1="267.75" x2="414.80" y2="267.75" stroke="#231f20" stroke-width="0.7"/>
<circle cx="408.35" cy="266.95" r="1.0" fill="#2b2b2b"/>
<circle cx="408.35" cy="263.95" r="1.0" fill="#2b2b2b"/>
<circle cx="413.80" cy="261.30" r="1.0" fill="#2b2b2b"/>
<circle cx="413.80" cy="258.30" r="1.0" fill="#2b2b2b"/>
<text x="405.30" y="338.20" font-size="7.1" text-anchor="middle" textLength="17.00" lengthAdjust="spacingAndGlyphs" fill="#231f20">day 2</text>
<rect x="424.67" y="251.95" width="3.80" height="76.55" fill="#c9c3c6"/>
<rect x="430.67" y="313.19" width="3.80" height="15.31" fill="#6a4868"/>
<rect x="436.22" y="296.57" width="3.80" height="31.93" fill="#74a756"/>
<rect x="441.67" y="259.33" width="3.80" height="69.17" fill="#a03246"/>
<line x1="426.57" y1="251.13" x2="426.57" y2="252.78" stroke="#231f20" stroke-width="0.7"/>
<line x1="425.57" y1="251.13" x2="427.57" y2="251.13" stroke="#231f20" stroke-width="0.7"/>
<line x1="425.57" y1="252.78" x2="427.57" y2="252.78" stroke="#231f20" stroke-width="0.7"/>
<line x1="432.57" y1="311.81" x2="432.57" y2="314.57" stroke="#231f20" stroke-width="0.7"/>
<line x1="431.57" y1="311.81" x2="433.57" y2="311.81" stroke="#231f20" stroke-width="0.7"/>
<line x1="431.57" y1="314.57" x2="433.57" y2="314.57" stroke="#231f20" stroke-width="0.7"/>
<line x1="438.12" y1="293.81" x2="438.12" y2="299.33" stroke="#231f20" stroke-width="0.7"/>
<line x1="437.12" y1="293.81" x2="439.12" y2="293.81" stroke="#231f20" stroke-width="0.7"/>
<line x1="437.12" y1="299.33" x2="439.12" y2="299.33" stroke="#231f20" stroke-width="0.7"/>
<line x1="443.57" y1="258.30" x2="443.57" y2="260.37" stroke="#231f20" stroke-width="0.7"/>
<line x1="442.57" y1="258.30" x2="444.57" y2="258.30" stroke="#231f20" stroke-width="0.7"/>
<line x1="442.57" y1="260.37" x2="444.57" y2="260.37" stroke="#231f20" stroke-width="0.7"/>
<circle cx="438.12" cy="290.81" r="1.0" fill="#2b2b2b"/>
<circle cx="438.12" cy="287.81" r="1.0" fill="#2b2b2b"/>
<circle cx="443.57" cy="255.30" r="1.0" fill="#2b2b2b"/>
<circle cx="443.57" cy="252.30" r="1.0" fill="#2b2b2b"/>
<circle cx="443.57" cy="249.30" r="1.0" fill="#2b2b2b"/>
<circle cx="443.57" cy="246.30" r="1.0" fill="#2b2b2b"/>
<text x="435.07" y="338.20" font-size="7.1" text-anchor="middle" textLength="17.00" lengthAdjust="spacingAndGlyphs" fill="#231f20">day 4</text>
<rect x="454.44" y="257.33" width="3.80" height="71.17" fill="#c9c3c6"/>
<rect x="460.44" y="323.12" width="3.80" height="5.38" fill="#6a4868"/>
<rect x="465.99" y="308.23" width="3.80" height="20.27" fill="#74a756"/>
<rect x="471.44" y="265.33" width="3.80" height="63.17" fill="#a03246"/>
<line x1="456.34" y1="256.64" x2="456.34" y2="258.02" stroke="#231f20" stroke-width="0.7"/>
<line x1="455.34" y1="256.64" x2="457.34" y2="256.64" stroke="#231f20" stroke-width="0.7"/>
<line x1="455.34" y1="258.02" x2="457.34" y2="258.02" stroke="#231f20" stroke-width="0.7"/>
<line x1="462.34" y1="322.57" x2="462.34" y2="323.67" stroke="#231f20" stroke-width="0.7"/>
<line x1="461.34" y1="322.57" x2="463.34" y2="322.57" stroke="#231f20" stroke-width="0.7"/>
<line x1="461.34" y1="323.67" x2="463.34" y2="323.67" stroke="#231f20" stroke-width="0.7"/>
<line x1="467.89" y1="306.16" x2="467.89" y2="310.30" stroke="#231f20" stroke-width="0.7"/>
<line x1="466.89" y1="306.16" x2="468.89" y2="306.16" stroke="#231f20" stroke-width="0.7"/>
<line x1="466.89" y1="310.30" x2="468.89" y2="310.30" stroke="#231f20" stroke-width="0.7"/>
<line x1="473.34" y1="263.95" x2="473.34" y2="266.71" stroke="#231f20" stroke-width="0.7"/>
<line x1="472.34" y1="263.95" x2="474.34" y2="263.95" stroke="#231f20" stroke-width="0.7"/>
<line x1="472.34" y1="266.71" x2="474.34" y2="266.71" stroke="#231f20" stroke-width="0.7"/>
<circle cx="467.89" cy="303.16" r="1.0" fill="#2b2b2b"/>
<circle cx="467.89" cy="300.16" r="1.0" fill="#2b2b2b"/>
<circle cx="467.89" cy="297.16" r="1.0" fill="#2b2b2b"/>
<circle cx="467.89" cy="294.16" r="1.0" fill="#2b2b2b"/>
<circle cx="473.34" cy="260.95" r="1.0" fill="#2b2b2b"/>
<circle cx="473.34" cy="257.95" r="1.0" fill="#2b2b2b"/>
<circle cx="473.34" cy="254.95" r="1.0" fill="#2b2b2b"/>
<circle cx="473.34" cy="251.95" r="1.0" fill="#2b2b2b"/>
<text x="464.84" y="338.20" font-size="7.1" text-anchor="middle" textLength="17.00" lengthAdjust="spacingAndGlyphs" fill="#231f20">day 6</text>
<rect x="484.21" y="253.61" width="3.80" height="74.89" fill="#c9c3c6"/>
<rect x="490.21" y="326.78" width="3.80" height="1.72" fill="#6a4868"/>
<rect x="495.76" y="320.09" width="3.80" height="8.41" fill="#74a756"/>
<rect x="501.21" y="270.23" width="3.80" height="58.27" fill="#a03246"/>
<line x1="486.11" y1="253.20" x2="486.11" y2="254.02" stroke="#231f20" stroke-width="0.7"/>
<line x1="485.11" y1="253.20" x2="487.11" y2="253.20" stroke="#231f20" stroke-width="0.7"/>
<line x1="485.11" y1="254.02" x2="487.11" y2="254.02" stroke="#231f20" stroke-width="0.7"/>
<line x1="492.11" y1="326.50" x2="492.11" y2="327.05" stroke="#231f20" stroke-width="0.7"/>
<line x1="491.11" y1="326.50" x2="493.11" y2="326.50" stroke="#231f20" stroke-width="0.7"/>
<line x1="491.11" y1="327.05" x2="493.11" y2="327.05" stroke="#231f20" stroke-width="0.7"/>
<line x1="497.66" y1="318.02" x2="497.66" y2="322.16" stroke="#231f20" stroke-width="0.7"/>
<line x1="496.66" y1="318.02" x2="498.66" y2="318.02" stroke="#231f20" stroke-width="0.7"/>
<line x1="496.66" y1="322.16" x2="498.66" y2="322.16" stroke="#231f20" stroke-width="0.7"/>
<line x1="503.11" y1="264.02" x2="503.11" y2="276.44" stroke="#231f20" stroke-width="0.7"/>
<line x1="502.11" y1="264.02" x2="504.11" y2="264.02" stroke="#231f20" stroke-width="0.7"/>
<line x1="502.11" y1="276.44" x2="504.11" y2="276.44" stroke="#231f20" stroke-width="0.7"/>
<circle cx="497.66" cy="315.02" r="1.0" fill="#2b2b2b"/>
<circle cx="497.66" cy="312.02" r="1.0" fill="#2b2b2b"/>
<circle cx="497.66" cy="309.02" r="1.0" fill="#2b2b2b"/>
<circle cx="503.11" cy="261.02" r="1.0" fill="#2b2b2b"/>
<circle cx="503.11" cy="258.02" r="1.0" fill="#2b2b2b"/>
<text x="494.61" y="338.20" font-size="7.1" text-anchor="middle" textLength="17.00" lengthAdjust="spacingAndGlyphs" fill="#231f20">day 8</text>
<line x1="387.80" y1="239.00" x2="387.80" y2="328.90" stroke="#231f20" stroke-width="1.2"/>
<line x1="387.20" y1="328.30" x2="508.30" y2="328.30" stroke="#231f20" stroke-width="1.2"/>
<line x1="384.60" y1="328.50" x2="387.80" y2="328.50" stroke="#231f20" stroke-width="1.0"/>
<text x="381.80" y="331.00" font-size="7.1" text-anchor="end" fill="#231f20">0</text>
<line x1="384.60" y1="311.26" x2="387.80" y2="311.26" stroke="#231f20" stroke-width="1.0"/>
<text x="381.80" y="313.76" font-size="7.1" text-anchor="end" textLength="6.90" lengthAdjust="spacingAndGlyphs" fill="#231f20">25</text>
<line x1="384.60" y1="294.02" x2="387.80" y2="294.02" stroke="#231f20" stroke-width="1.0"/>
<text x="381.80" y="296.52" font-size="7.1" text-anchor="end" textLength="6.90" lengthAdjust="spacingAndGlyphs" fill="#231f20">50</text>
<line x1="384.60" y1="276.78" x2="387.80" y2="276.78" stroke="#231f20" stroke-width="1.0"/>
<text x="381.80" y="279.28" font-size="7.1" text-anchor="end" textLength="6.90" lengthAdjust="spacingAndGlyphs" fill="#231f20">75</text>
<line x1="384.60" y1="259.54" x2="387.80" y2="259.54" stroke="#231f20" stroke-width="1.0"/>
<text x="381.80" y="262.04" font-size="7.1" text-anchor="end" textLength="10.35" lengthAdjust="spacingAndGlyphs" fill="#231f20">100</text>
<line x1="384.60" y1="242.30" x2="387.80" y2="242.30" stroke="#231f20" stroke-width="1.0"/>
<text x="381.80" y="244.80" font-size="7.1" text-anchor="end" textLength="10.35" lengthAdjust="spacingAndGlyphs" fill="#231f20">125</text>
<text x="385.90" y="351.80" font-size="9.6" textLength="124.70" lengthAdjust="spacingAndGlyphs" fill="#231f20" style="stroke-width:0.18px">Days into 1μM POM treatment</text>
<rect x="171.90" y="365.40" width="8.80" height="4.60" fill="#c9c3c6"/>
<text x="188.10" y="370.00" font-size="6.4" textLength="39.00" lengthAdjust="spacingAndGlyphs" fill="#3a3a3a" style="stroke-width:0.04px">BC-3 CRBN KO</text>
<text x="234.30" y="380.80" font-size="6.4" textLength="23.60" lengthAdjust="spacingAndGlyphs" fill="#3a3a3a" style="stroke-width:0.04px">BC-3 WT</text>
<line x1="172.00" y1="386.00" x2="329.60" y2="386.00" stroke="#858585" stroke-width="1.6"/>
<rect x="171.90" y="391.20" width="8.80" height="4.60" fill="#6a4868"/>
<text x="183.80" y="395.80" font-size="6.4" textLength="22.80" lengthAdjust="spacingAndGlyphs" fill="#3a3a3a" style="stroke-width:0.04px">ZsGreen</text>
<rect x="215.60" y="391.20" width="8.80" height="4.60" fill="#74a756"/>
<text x="227.80" y="395.80" font-size="6.4" textLength="28.80" lengthAdjust="spacingAndGlyphs" fill="#3a3a3a" style="stroke-width:0.04px">CUL4A WT</text>
<rect x="269.80" y="391.20" width="8.80" height="4.60" fill="#a03246"/>
<text x="281.70" y="395.80" font-size="6.4" textLength="37.60" lengthAdjust="spacingAndGlyphs" fill="#3a3a3a" style="stroke-width:0.04px">CUL4A K705R</text>
<rect x="351.20" y="365.40" width="8.80" height="4.60" fill="#c9c3c6"/>
<text x="367.40" y="370.00" font-size="6.4" textLength="39.00" lengthAdjust="spacingAndGlyphs" fill="#3a3a3a" style="stroke-width:0.04px">BC-3 CRBN KO</text>
<text x="413.60" y="380.80" font-size="6.4" textLength="23.60" lengthAdjust="spacingAndGlyphs" fill="#3a3a3a" style="stroke-width:0.04px">BC-3 WT</text>
<line x1="351.30" y1="386.00" x2="508.90" y2="386.00" stroke="#858585" stroke-width="1.6"/>
<rect x="351.20" y="391.20" width="8.80" height="4.60" fill="#6a4868"/>
<text x="363.10" y="395.80" font-size="6.4" textLength="22.80" lengthAdjust="spacingAndGlyphs" fill="#3a3a3a" style="stroke-width:0.04px">ZsGreen</text>
<rect x="394.90" y="391.20" width="8.80" height="4.60" fill="#74a756"/>
<text x="407.10" y="395.80" font-size="6.4" textLength="28.80" lengthAdjust="spacingAndGlyphs" fill="#3a3a3a" style="stroke-width:0.04px">CUL4A WT</text>
<rect x="449.10" y="391.20" width="8.80" height="4.60" fill="#a03246"/>
<text x="461.00" y="395.80" font-size="6.4" textLength="37.60" lengthAdjust="spacingAndGlyphs" fill="#3a3a3a" style="stroke-width:0.04px">CUL4A K705R</text>
<rect x="0.9" y="0.9" width="518.2" height="401.2" fill="none" stroke="#454545" stroke-width="1.8"/>
</svg>
</body></html>
